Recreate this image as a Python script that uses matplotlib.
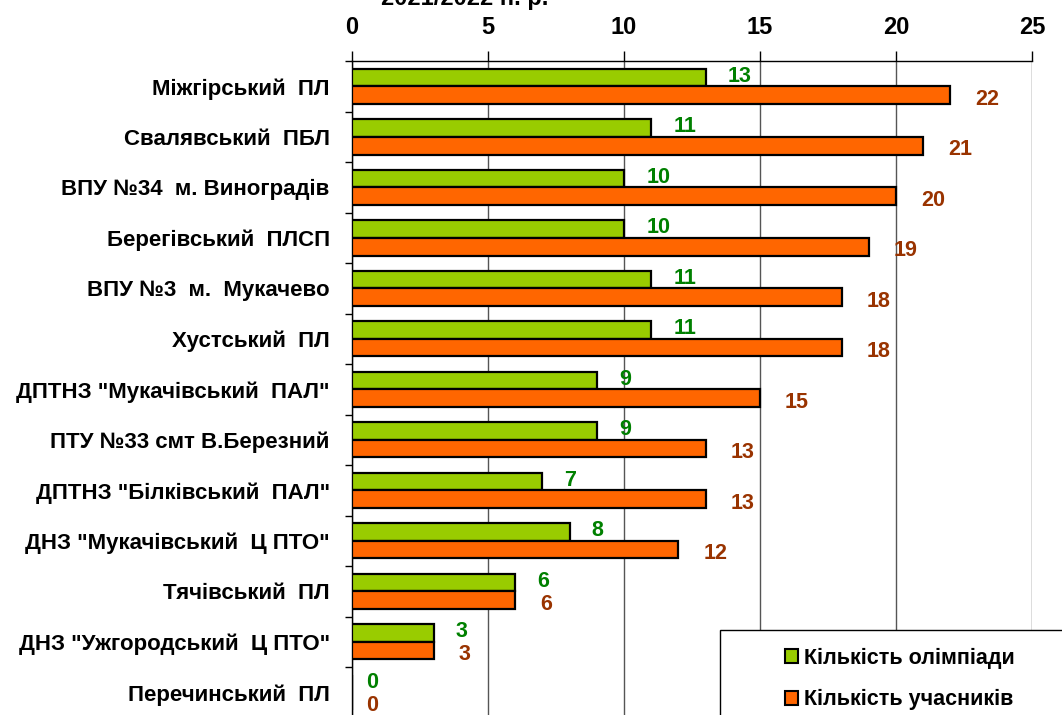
import matplotlib.pyplot as plt
from matplotlib.patches import Rectangle, Patch
import numpy as np

plt.rcParams['font.family'] = ['Liberation Sans', 'DejaVu Sans']

schools = ['Міжгірський  ПЛ', 'Свалявський  ПБЛ', 'ВПУ №34  м. Виноградів',
           'Берегівський  ПЛСП', 'ВПУ №3  м.  Мукачево', 'Хустський  ПЛ',
           'ДПТНЗ "Мукачівський  ПАЛ"', 'ПТУ №33 смт В.Березний',
           'ДПТНЗ "Білківський  ПАЛ"', 'ДНЗ "Мукачівський  Ц ПТО"',
           'Тячівський  ПЛ', 'ДНЗ "Ужгородський  Ц ПТО"', 'Перечинський  ПЛ']
olymp = [13, 11, 10, 10, 11, 11, 9, 9, 7, 8, 6, 3, 0]
particip = [22, 21, 20, 19, 18, 18, 15, 13, 13, 12, 6, 3, 0]
xticks = [0, 5, 10, 15, 20, 25]

green = '#99cc00'
orange = '#ff6600'

fig = plt.figure(figsize=(10.62, 7.15), dpi=100)
ax = fig.add_axes([352 / 1062, -0.0035, 680 / 1062, 0.918])

y = np.arange(len(schools))
h = 0.35
ax.barh(y - h / 2, olymp, height=h, color=green, edgecolor='black', linewidth=1.6, zorder=3)
ax.barh(y + h / 2, particip, height=h, color=orange, edgecolor='black', linewidth=1.6, zorder=3)

for i in range(len(schools)):
    dx = 10 if olymp[i] == 0 else 16
    ax.annotate(str(olymp[i]), (olymp[i], y[i] - h / 2), xytext=(dx, 1),
                textcoords='offset points', ha='left', va='center',
                color='#008000', fontsize=15.5, fontweight='bold', zorder=4)
    dx = 10 if particip[i] == 0 else 18
    ax.annotate(str(particip[i]), (particip[i], y[i] + h / 2), xytext=(dx, -3),
                textcoords='offset points', ha='left', va='center',
                color='#993300', fontsize=15.5, fontweight='bold', zorder=4)

ax.set_xlim(0, 25)
ax.set_ylim(len(schools) - 0.5, -0.5)
ax.set_xticks(xticks)
ax.xaxis.tick_top()
ax.tick_params(axis='x', labelsize=17, length=7, width=1, pad=9)
for t in ax.get_xticklabels():
    t.set_fontweight('bold')
ax.grid(axis='x', color='#555555', linewidth=1, zorder=0)

ax.set_yticks(y)
ax.set_yticklabels(schools, fontsize=16, fontweight='bold')
ax.tick_params(axis='y', which='major', length=0, pad=16)
ax.set_yticks(np.arange(len(schools) + 1) - 0.5, minor=True)
ax.tick_params(axis='y', which='minor', length=5, width=1)

ax.spines['right'].set_visible(False)
ax.spines['bottom'].set_visible(False)
ax.spines['top'].set_linewidth(1)
ax.spines['left'].set_linewidth(1)

fig.text(465 / 1062, 1 - 5 / 715, '2021/2022 н. р.', ha='center', va='baseline',
         fontsize=17, fontweight='bold')

fig.patches.append(Rectangle((720 / 1062, -0.05), 0.4, 0.05 + 85 / 715,
                             transform=fig.transFigure, facecolor='white',
                             edgecolor='black', linewidth=1, zorder=5))
handles = [Patch(facecolor=green, edgecolor='black', linewidth=1.5),
           Patch(facecolor=orange, edgecolor='black', linewidth=1.5)]
leg = fig.legend(handles, ['Кількість олімпіади', 'Кількість учасників'],
                 loc='upper left', bbox_to_anchor=(774 / 1062, 1 - 637 / 715),
                 frameon=False, prop={'size': 15.5, 'weight': 'bold'},
                 handlelength=0.6, handleheight=0.6, handletextpad=0.3,
                 labelspacing=0.95, borderpad=0)
leg.set_zorder(6)

fig.savefig('out.png', dpi=100)
